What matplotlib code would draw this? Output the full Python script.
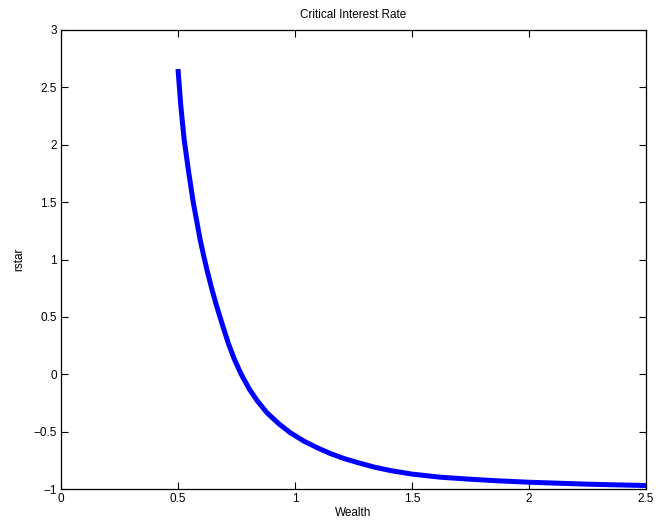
import matplotlib
matplotlib.use("Agg")
import matplotlib.pyplot as plt

wealth = [0.50, 0.512, 0.526, 0.545, 0.565, 0.595, 0.61, 0.625, 0.645, 0.665, 0.69,
          0.715, 0.74, 0.77, 0.805, 0.84, 0.88, 0.93, 0.98, 1.04, 1.10, 1.15, 1.21,
          1.27, 1.34, 1.41, 1.50, 1.62, 1.75, 1.87, 2.00, 2.25, 2.50]
rstar = [2.66, 2.34, 2.05, 1.77, 1.50, 1.17, 1.03, 0.90, 0.74, 0.595, 0.43,
         0.27, 0.135, 0.00, -0.13, -0.235, -0.335, -0.43, -0.51, -0.585, -0.645, -0.69, -0.735,
         -0.771, -0.81, -0.84, -0.87, -0.897, -0.915, -0.929, -0.941, -0.958, -0.97]
xticks = [0, 0.5, 1, 1.5, 2, 2.5]
yticks = [-1, -0.5, 0, 0.5, 1, 1.5, 2, 2.5, 3]

plt.rcParams['font.family'] = ['Liberation Sans', 'DejaVu Sans']
fig = plt.figure(figsize=(6.56, 5.29), dpi=100)
ax = fig.add_axes([61/656, 1 - 489/529, (646 - 61)/656, (489 - 30)/529])
ax.plot(wealth, rstar, color='#0000ff', linewidth=3.6,
        solid_capstyle='butt', solid_joinstyle='round')
ax.set_xlim(0, 2.5)
ax.set_ylim(-1, 3)
ax.set_xticks(xticks)
ax.set_xticklabels([f"{t:g}" for t in xticks])
ax.set_yticks(yticks)
ax.set_yticklabels([f"{t:g}".replace('-', '\u2212') for t in yticks])
ax.tick_params(direction='in', top=True, right=True, labelsize=8.5, length=5, width=0.8, pad=3)
for s in ax.spines.values():
    s.set_linewidth(0.9)
ax.set_title('Critical Interest Rate', fontsize=8.5, pad=9)
ax.set_xlabel('Wealth', fontsize=8.5, labelpad=1)
ax.set_ylabel('rstar', fontsize=8.5, labelpad=6)
fig.savefig('out.png', dpi=100)
